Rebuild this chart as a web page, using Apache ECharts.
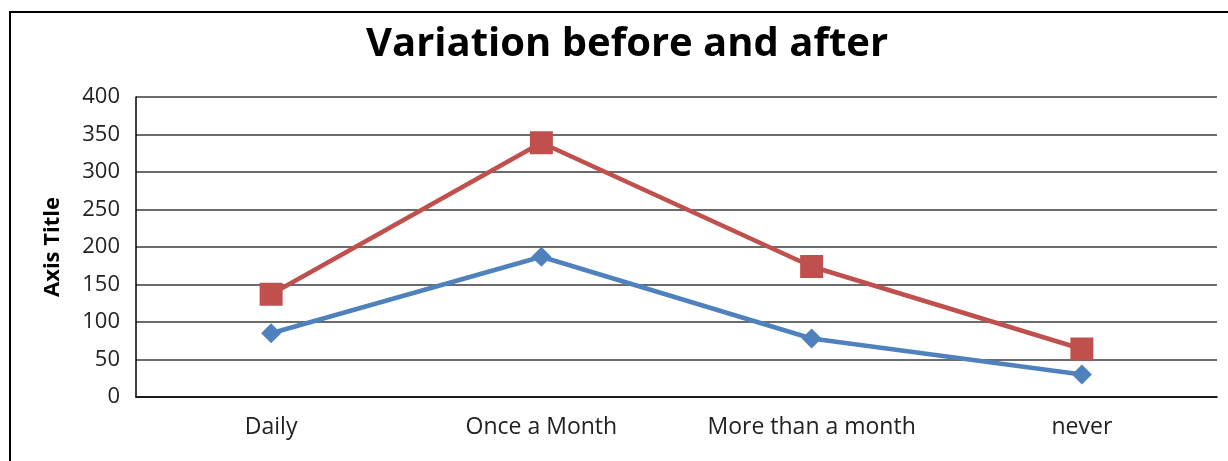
<!DOCTYPE html>
<html>
<head>
<meta charset="utf-8">
<style>
  html, body { margin: 0; padding: 0; background: #fff; }
  #chart { width: 1228px; height: 461px; }
</style>
<script src="https://cdn.jsdelivr.net/npm/echarts@6/dist/echarts.min.js"></script>
</head>
<body>
<div id="chart"></div>
<script>
// Frequency categories along the x axis
const categories = ['Daily', 'Once a Month', 'More than a month', 'never'];
// Counts before and after
const seriesBefore = [85, 187, 78, 30];
const seriesAfter = [137, 339, 174, 64];
// Value axis ticks
const yTicks = [0, 50, 100, 150, 200, 250, 300, 350, 400];

const font = '"Open Sans", sans-serif';
const chart = echarts.init(document.getElementById('chart'), null, { renderer: 'canvas' });

chart.setOption({
  animation: false,
  backgroundColor: '#fff',
  title: {
    text: 'Variation before and after',
    left: 361,
    top: 20,
    textStyle: { fontFamily: font, fontSize: 40, fontWeight: 'bold', color: '#000' }
  },
  graphic: [{
    type: 'rect',
    shape: { x: 10, y: 12, width: 1240, height: 470 },
    style: { fill: 'none', stroke: '#000', lineWidth: 2 },
    silent: true
  }],
  grid: { left: 136, right: 11, top: 97, bottom: 64, containLabel: false },
  xAxis: {
    type: 'category',
    data: categories,
    boundaryGap: true,
    axisLine: { lineStyle: { color: '#000', width: 1.5 } },
    axisTick: { show: false },
    axisLabel: { interval: 0, fontFamily: font, fontSize: 23, color: '#222', margin: 19 }
  },
  yAxis: {
    type: 'value',
    min: yTicks[0],
    max: yTicks[yTicks.length - 1],
    interval: yTicks[1] - yTicks[0],
    name: 'Axis Title',
    nameLocation: 'middle',
    nameGap: 72,
    nameRotate: 90,
    nameTextStyle: { fontFamily: font, fontSize: 22, fontWeight: 'bold', color: '#000' },
    axisLine: { show: true, lineStyle: { color: '#000', width: 1.5 } },
    axisTick: { show: false },
    axisLabel: { fontFamily: font, fontSize: 22, color: '#222', margin: 16 },
    splitLine: { lineStyle: { color: '#3a3a3a', width: 1.5 } }
  },
  series: [
    {
      name: 'Before',
      type: 'line',
      data: seriesBefore,
      symbol: 'diamond',
      symbolSize: 20,
      itemStyle: { color: '#4F81BD' },
      lineStyle: { color: '#4F81BD', width: 4.5 }
    },
    {
      name: 'After',
      type: 'line',
      data: seriesAfter,
      symbol: 'rect',
      symbolSize: 23,
      itemStyle: { color: '#C0504D' },
      lineStyle: { color: '#C0504D', width: 4.5 }
    }
  ]
});
</script>
</body>
</html>
